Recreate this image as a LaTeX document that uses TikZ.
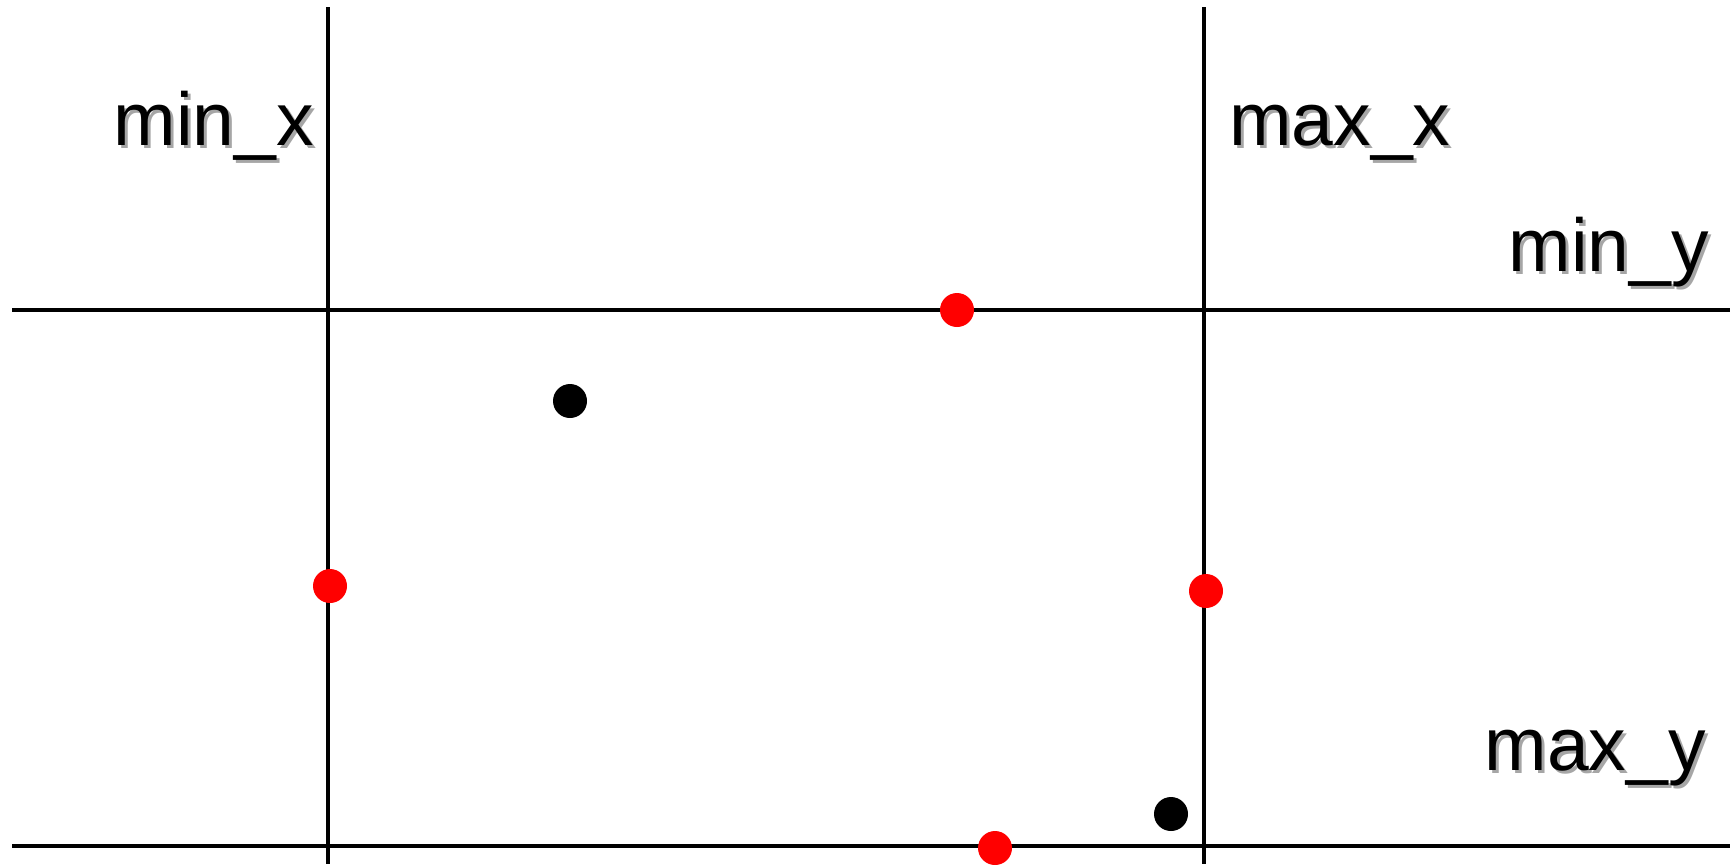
\documentclass[tikz,border=0pt]{standalone}
\usepackage{fontspec}
\setmainfont{Liberation Sans}
\usepackage{xcolor}
\usepackage{tikz}
\usetikzlibrary{positioning}

\newcommand{\shadowed}[1]{\rlap{\hspace{1.5pt}\raisebox{-1.5pt}{\textcolor{black!35}{#1}}}#1}

\begin{document}
\begin{tikzpicture}[x=0.5pt, y=-0.5pt]
\tikzstyle{bound} = [line width=2pt, black]
\tikzstyle{label} = [inner sep=0pt, font=\fontsize{37.5}{42}\selectfont]
\tikzstyle{reddot} = [circle, fill=red, inner sep=0pt, minimum size=17pt]
\tikzstyle{blackdot} = [circle, fill=black, inner sep=0pt, minimum size=17pt]

\useasboundingbox (0,0) rectangle (1730,864);

% bounding lines
\draw [bound] (328,7) -- (328,864);
\draw [bound] (1204,7) -- (1204,864);
\draw [bound] (12,310) -- (1730,310);
\draw [bound] (12,846) -- (1730,846);

% labels
\node (minx) [label, anchor=base east] at (314,145) {\shadowed{min\_x}};
\node (maxx) [label, anchor=base west] at (1229,145) {\shadowed{max\_x}};
\node (miny) [label, anchor=base east] at (1709,271) {\shadowed{min\_y}};
\node (maxy) [label, anchor=base east] at (1706,770) {\shadowed{max\_y}};

% extreme points
\node (top) [reddot] at (957,310) {};
\node (left) [reddot] at (330,586) {};
\node (right) [reddot] at (1206,591) {};
\node (bottom) [reddot] at (995,848) {};

% inner points
\node (p1) [blackdot] at (570,401) {};
\node (p2) [blackdot] at (1171,814) {};
\end{tikzpicture}
\end{document}
